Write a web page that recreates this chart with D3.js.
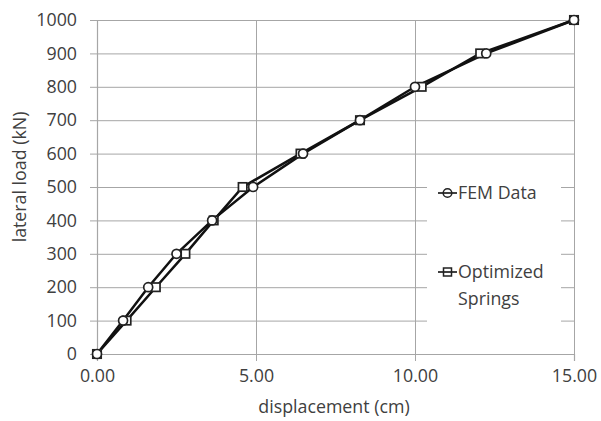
<!DOCTYPE html>
<html>
<head>
<meta charset="utf-8">
<script src="https://cdn.jsdelivr.net/npm/d3@7"></script>
<style>
  body { margin: 0; background: #fff; }
  text { font-family: "Open Sans", sans-serif; fill: #404040; }
</style>
</head>
<body>
<svg id="chart" width="601" height="421"></svg>
<script>

// lateral load levels (kN)
var loads = [0, 100, 200, 300, 400, 500, 600, 700, 800, 900, 1000];
// displacement (cm)
var femDisp = [0, 0.82, 1.61, 2.50, 3.62, 4.91, 6.48, 8.27, 10.0, 12.24, 15.0];
var springDisp = [0, 0.93, 1.85, 2.78, 3.67, 4.58, 6.40, 8.27, 10.21, 12.05, 15.0];

var xTicks = [0, 5, 10, 15];
var yTicks = [0, 100, 200, 300, 400, 500, 600, 700, 800, 900, 1000];
var seriesNames = ['FEM Data', 'Optimized Springs'];

const plotLeft = 97, plotRight = 574, plotTop = 20, plotBottom = 354;
const fontSize = 17.8;

var svg = d3.select('#chart');

var x = d3.scaleLinear().domain([0, 15]).range([plotLeft, plotRight]);
var y = d3.scaleLinear().domain([0, 1000]).range([plotBottom, plotTop]);

// gridlines
svg.append('g')
    .attr('transform', 'translate(0,' + plotBottom + ')')
    .call(d3.axisBottom(x).tickValues(xTicks).tickSize(-(plotBottom - plotTop)).tickFormat(''))
    .call(g => g.select('.domain').remove())
    .selectAll('line').attr('stroke', '#a6a6a6');

svg.append('g')
    .attr('transform', 'translate(' + plotLeft + ',0)')
    .call(d3.axisLeft(y).tickValues(yTicks).tickSize(-(plotRight - plotLeft)).tickFormat(''))
    .call(g => g.select('.domain').remove())
    .selectAll('line').attr('stroke', '#a6a6a6');

// axes with outside ticks
var xAxis = svg.append('g')
    .attr('transform', 'translate(0,' + plotBottom + ')')
    .call(d3.axisBottom(x).tickValues(xTicks).tickSize(7).tickPadding(8).tickFormat(d3.format('.2f')));
var yAxis = svg.append('g')
    .attr('transform', 'translate(' + plotLeft + ',0)')
    .call(d3.axisLeft(y).tickValues(yTicks).tickSize(7).tickPadding(13).tickFormat(d3.format('d')));

[xAxis, yAxis].forEach(function (a) {
    a.select('.domain').attr('stroke', '#a6a6a6').attr('stroke-width', 1.2);
    a.selectAll('.tick line').attr('stroke', '#a6a6a6');
    a.selectAll('.tick text')
        .style('font-size', fontSize + 'px')
        .style('font-family', '"Open Sans", sans-serif')
        .attr('fill', '#404040');
});

// axis titles
svg.append('text')
    .attr('x', 334).attr('y', 413)
    .attr('text-anchor', 'middle')
    .style('font-size', fontSize + 'px')
    .text('displacement (cm)');

svg.append('text')
    .attr('transform', 'translate(26,177) rotate(-90)')
    .attr('text-anchor', 'middle')
    .style('font-size', fontSize + 'px')
    .text('lateral load (kN)');

// legend background
svg.append('rect')
    .attr('x', 427).attr('y', 172)
    .attr('width', 134).attr('height', 164)
    .attr('fill', '#fff');

var line = d3.line()
    .x(function (d) { return x(d[0]); })
    .y(function (d) { return y(d[1]); });

var femData = d3.zip(femDisp, loads);
var springData = d3.zip(springDisp, loads);

svg.append('path').datum(femData)
    .attr('d', line).attr('fill', 'none')
    .attr('stroke', '#111').attr('stroke-width', 2.5);
svg.append('path').datum(springData)
    .attr('d', line).attr('fill', 'none')
    .attr('stroke', '#111').attr('stroke-width', 2.5);

svg.append('g').selectAll('rect').data(springData).join('rect')
    .attr('x', function (d) { return x(d[0]) - 4.2; })
    .attr('y', function (d) { return y(d[1]) - 4.2; })
    .attr('width', 8.4).attr('height', 8.4)
    .attr('fill', '#fff')
    .attr('stroke', '#222').attr('stroke-width', 1.7);

svg.append('g').selectAll('circle').data(femData).join('circle')
    .attr('cx', function (d) { return x(d[0]); })
    .attr('cy', function (d) { return y(d[1]); })
    .attr('r', 4.5)
    .attr('fill', '#fff')
    .attr('stroke', '#222').attr('stroke-width', 1.7);

// legend
var lg = svg.append('g');
lg.append('line').attr('x1', 438).attr('x2', 457).attr('y1', 193).attr('y2', 193)
    .attr('stroke', '#111').attr('stroke-width', 1.6);
lg.append('circle').attr('cx', 447.5).attr('cy', 193).attr('r', 4.3)
    .attr('fill', 'none').attr('stroke', '#222').attr('stroke-width', 1.5);
lg.append('text').attr('x', 458).attr('y', 199).style('font-size', fontSize + 'px').text(seriesNames[0]);

lg.append('line').attr('x1', 438).attr('x2', 457).attr('y1', 272).attr('y2', 272)
    .attr('stroke', '#111').attr('stroke-width', 1.6);
lg.append('rect').attr('x', 443.5).attr('y', 268).attr('width', 8).attr('height', 8)
    .attr('fill', 'none').attr('stroke', '#222').attr('stroke-width', 1.5);
var t = lg.append('text').attr('x', 458).attr('y', 278).style('font-size', fontSize + 'px');
t.append('tspan').attr('x', 458).text('Optimized');
t.append('tspan').attr('x', 458).attr('dy', 27).text('Springs');

</script>
</body>
</html>
